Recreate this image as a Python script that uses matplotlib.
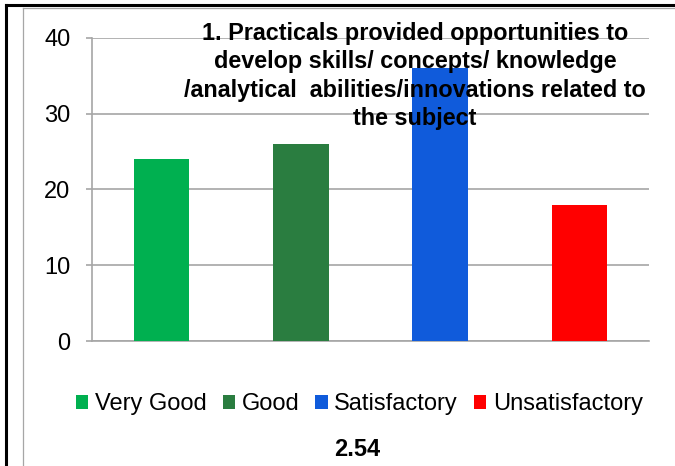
#!/usr/bin/env python3
# -*- coding: utf-8 -*-

"""
bar chart of the feedback for question 1 (practicals)
"""

import matplotlib as mpl
mpl.use("Agg")
import matplotlib.pyplot as plt
from matplotlib.patches import Patch
from matplotlib.lines import Line2D

mpl.rcParams['font.family'] = ['Liberation Sans', 'DejaVu Sans']

# data
categories = ['Very Good', 'Good', 'Satisfactory', 'Unsatisfactory']
counts = [24, 26, 36, 18]
colors = ['#00B050', '#2A7D40', '#105BDB', '#FF0000']
yticks = [0, 10, 20, 30, 40]
title = ("1. Practicals provided opportunities to\n"
         "develop skills/ concepts/ knowledge\n"
         "/analytical  abilities/innovations related to\n"
         "the subject")
xlabel = '2.54'


if __name__ == "__main__":
    W, H = 675, 466
    fig = plt.figure(figsize=(W / 100, H / 100), dpi=100)

    # axes placed in pixels like the excel chart
    ax = fig.add_axes([92 / W, 1 - 341 / H, (649 - 92) / W, (341 - 37.7) / H])
    ax.bar(range(len(categories)), counts, width=0.4, color=colors, zorder=3)

    ax.set_xlim(-0.5, len(categories) - 0.5)
    ax.set_ylim(0, 40)
    ax.set_yticks(yticks)
    ax.set_xticks([])
    ax.yaxis.grid(True, color='#A6A6A6', lw=1.2, zorder=0)
    ax.tick_params(axis='y', length=4.5, width=1.2, color='#A6A6A6', pad=11,
                   labelsize=17)
    for s in ['top', 'right']:
        ax.spines[s].set_visible(False)
    for s in ['left', 'bottom']:
        ax.spines[s].set_color('#A6A6A6')
        ax.spines[s].set_linewidth(1.2)

    # title sits on top of the plot area
    fig.text(415 / W, 1 - 76 / H, title, ha='center', va='center',
             multialignment='center', fontsize=16.8, fontweight='bold',
             linespacing=1.3, zorder=5)

    # legend
    handles = [Patch(facecolor=c, edgecolor='none') for c in colors]
    fig.legend(handles, categories, loc='center', ncol=4, frameon=False,
               bbox_to_anchor=(359.5 / W, 1 - 404 / H), fontsize=17,
               handlelength=0.52, handleheight=0.52, handletextpad=0.28,
               columnspacing=0.68, borderaxespad=0, borderpad=0)

    fig.text(357 / W, 1 - 450 / H, xlabel, ha='center', va='center',
             fontsize=17, fontweight='bold')

    # outer black border and inner gray frame
    fig.add_artist(Line2D([6 / W, 6 / W], [0, 1 - 5 / H], color='black', lw=2.2,
                          transform=fig.transFigure))
    fig.add_artist(Line2D([6 / W, 1], [1 - 5 / H, 1 - 5 / H], color='black', lw=2.2,
                          transform=fig.transFigure))
    fig.add_artist(Line2D([23 / W, 23 / W], [0, 1 - 8 / H], color='#A6A6A6', lw=0.9,
                          transform=fig.transFigure))
    fig.add_artist(Line2D([23 / W, 1], [1 - 8 / H, 1 - 8 / H], color='#A6A6A6', lw=0.9,
                          transform=fig.transFigure))

    plt.savefig('out.png', dpi=100)
